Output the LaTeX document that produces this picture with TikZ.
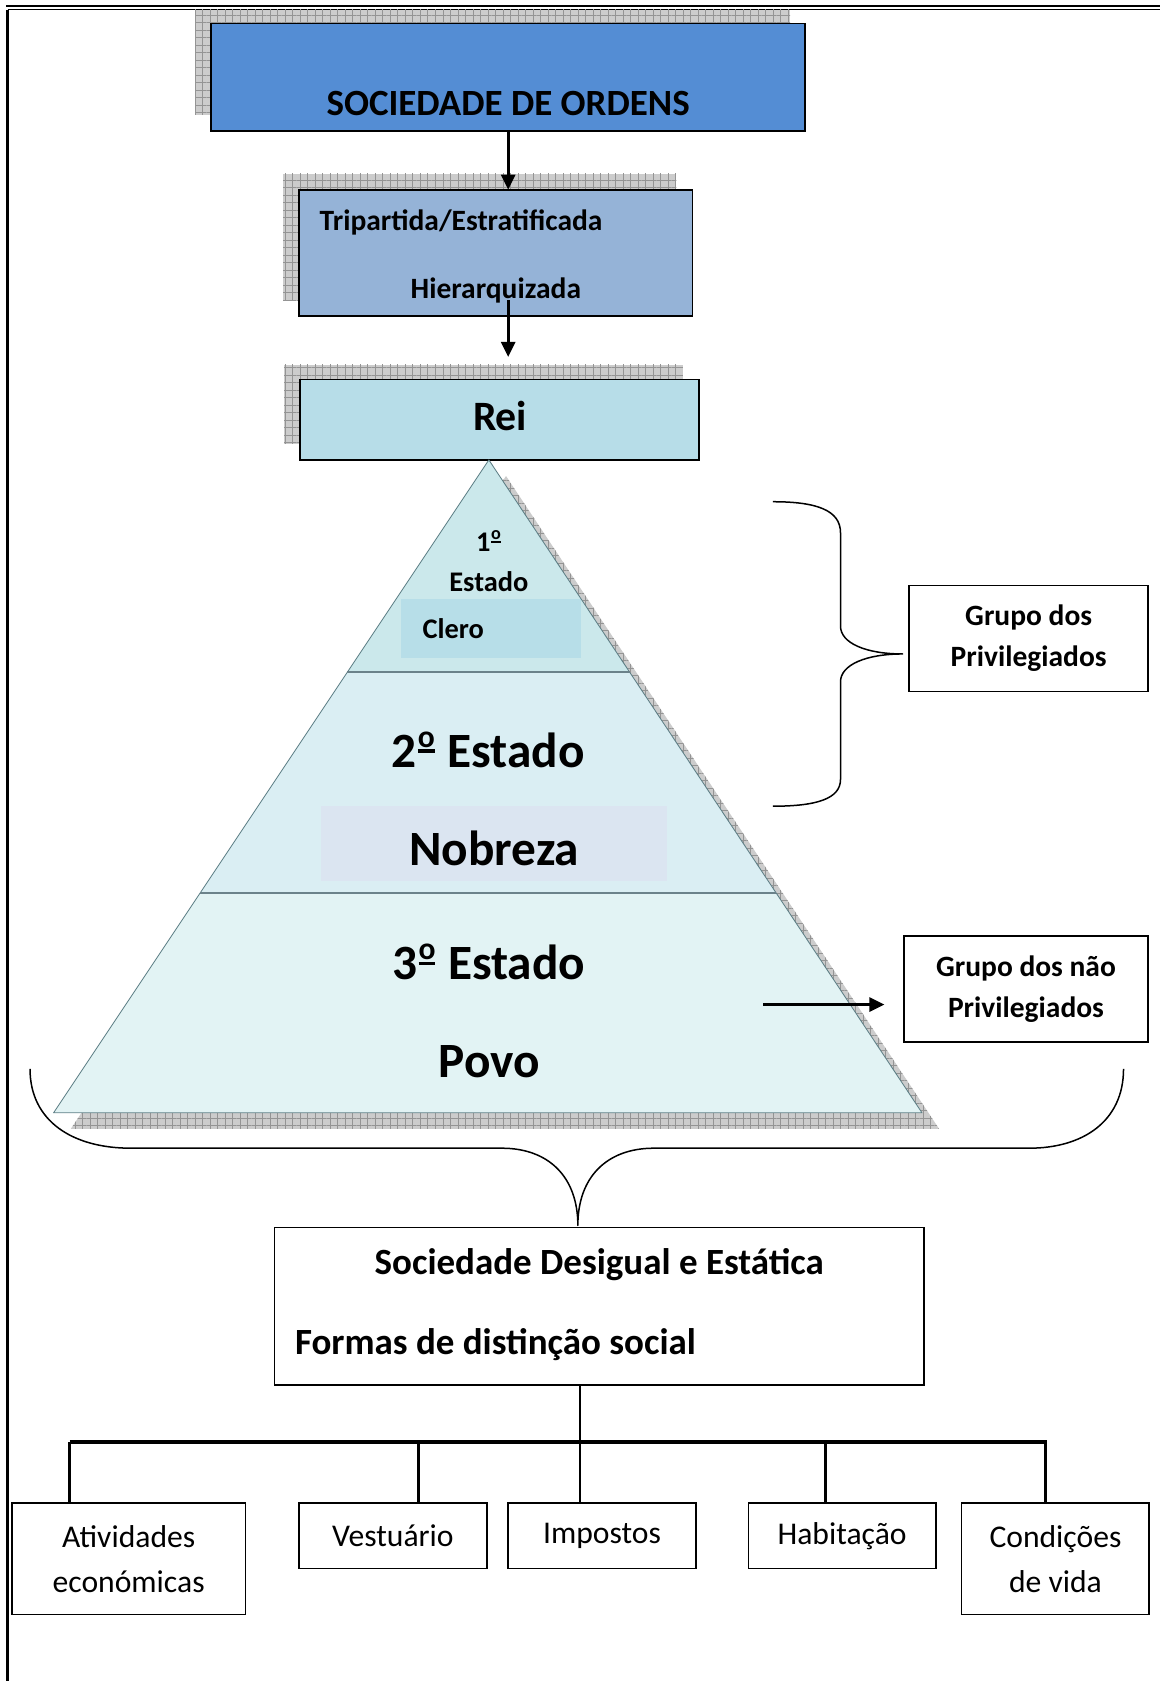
\documentclass[tikz,border=0pt]{standalone}
\usepackage{fontspec}
\setmainfont{Carlito}
\usetikzlibrary{arrows.meta,patterns.meta}
\definecolor{socblue}{HTML}{548DD4}
\definecolor{tripblue}{HTML}{95B3D7}
\definecolor{reiblue}{HTML}{B7DDE8}
\definecolor{pyrtop}{HTML}{CBE8EB}
\definecolor{pyrmid}{HTML}{DAEEF3}
\definecolor{pyrbot}{HTML}{E2F3F4}
\definecolor{clerobox}{HTML}{B7DEE8}
\definecolor{nobrbox}{HTML}{DBE5F1}
\definecolor{pyrline}{HTML}{5E7F86}
\definecolor{pyrdiv}{HTML}{6B828A}
\newcommand\szSoc{\fontsize{34.5}{40}\selectfont\bfseries}
\newcommand\szMid{\fontsize{27.5}{38}\selectfont\bfseries}
\newcommand\szRei{\fontsize{39}{44}\selectfont\bfseries}
\newcommand\szSml{\fontsize{26.5}{32}\selectfont\bfseries}
\newcommand\szBig{\fontsize{46}{52}\selectfont\bfseries}
\newcommand\szReg{\fontsize{29.5}{42}\selectfont}
\newcommand\ordm{\kern0.02em\raisebox{0.3em}{\vbox{\hbox{\scalebox{0.64}{o}}\kern0.04em\hrule height 0.07em}}\kern0.03em}
\tikzset{
  box/.style={draw=black, line width=1.5, inner sep=0, outer sep=0},
  shadowfill/.style={preaction={fill=black!20}, pattern={Hatch[distance=7pt,angle=0,line width=0.5pt]}, pattern color=black!42},
  arr/.style={line width=2.6, -{Triangle[width=13pt,length=14pt]}},
  txt/.style={inner sep=0, anchor=base},
  txtl/.style={inner sep=0, anchor=base west},
  brace/.style={line width=1.4, line join=round},
  tree/.style={line width=2.6},
}
\begin{document}
\begin{tikzpicture}[x=1pt,y=-1pt]
\useasboundingbox (0,0) rectangle (1082,1568);
% page frame
\draw[line width=1.9] (5.6,5.6) -- (1082,5.6);
\draw[line width=1.1] (7,9) -- (1082,9);
\draw[line width=3] (7.1,9) -- (7.1,1568);

% shadows
\fill[shadowfill] (182,9) rectangle (737,107);
\fill[shadowfill] (264,162) rectangle (631,280);
\fill[shadowfill] (265,340) rectangle (637,414);
\fill[shadowfill] (472,444) -- (66,1053) -- (876,1053) -- cycle;

% top boxes
\node[box, fill=socblue, minimum width=554, minimum height=100] (soc) at (474,72) {};
\node[txt] (soct) at (474,108) {\szSoc SOCIEDADE DE ORDENS};
\node[box, fill=tripblue, minimum width=367, minimum height=118] (trip) at (462.5,236) {};
\node[txtl] (tript1) at (298,215) {\szMid Tripartida/Estratificada};
\node[txt] (tript2) at (462.5,278) {\szMid Hierarquizada};
\node[box, fill=reiblue, minimum width=372, minimum height=75] (rei) at (466,391.5) {};
\node[txt] (reit) at (466.5,402) {\szRei Rei};

% arrows
\draw[arr] (soc.south) -- (soc.south |- trip.north);
\coordinate (h1) at (474,280);
\coordinate (h2) at (474,333);
\draw[arr] (h1) -- (h2);

% pyramid
\coordinate (apex) at (456,429);
\coordinate (bl) at (50,1038);
\coordinate (br) at (860,1038);
\coordinate (l1) at (324,627);
\coordinate (r1) at (587.3,627);
\coordinate (l2) at (186.7,833);
\coordinate (r2) at (724,833);
\fill[pyrtop] (apex) -- (l1) -- (r1) -- cycle;
\fill[pyrmid] (l1) -- (l2) -- (r2) -- (r1) -- cycle;
\fill[pyrbot] (l2) -- (bl) -- (br) -- (r2) -- cycle;
\fill[clerobox] (374,559) rectangle (542,614);
\fill[nobrbox] (299,752) rectangle (622,822);
\draw[pyrline, line width=0.8, line join=round] (apex) -- (bl) -- (br) -- cycle;
\draw[pyrdiv, line width=1.8] (l1) -- (r1);
\draw[pyrdiv, line width=1.8] (l2) -- (r2);

\node[txt] (e1a) at (456,514) {\szSml 1\ordm};
\node[txt] (e1b) at (456,552) {\szSml Estado};
\node[txtl] (e1c) at (394,596) {\szSml Clero};
\node[txt] (e2a) at (455.5,716) {\szBig 2\ordm{} Estado};
\node[txt] (e2b) at (461,807) {\szBig Nobreza};
\node[txt] (e3a) at (456,914) {\szBig 3\ordm{} Estado};
\node[txt] (e3b) at (456.5,1005) {\szBig Povo};

% group boxes
\node[box, minimum width=223, minimum height=99, align=center, font=\szMid] (priv) at (959.5,595.5) {Grupo dos\\Privilegiados};
\node[box, minimum width=228, minimum height=99, align=center, font=\szMid] (npriv) at (957,922.5) {Grupo dos não\\Privilegiados};

% right brace
\coordinate (rbtip) at (842,610);
\draw[brace] (721,468) .. controls (762,468) and (784,476) .. (784,497) -- (784,584)
  .. controls (784,600) and (808,610) .. (rbtip)
  .. controls (808,610) and (784,620) .. (784,636) -- (784,727)
  .. controls (784,745) and (762,752) .. (721,752);

% arrow to non privileged
\coordinate (na1) at (712,937);
\coordinate (na2) at (825,937);
\draw[arr] (na1) -- (na2);

% society box
\node[box, minimum width=606, minimum height=147] (desig) at (559,1218.5) {};
\node[txt] (desigt1) at (559,1189) {\szSoc Sociedade Desigual e Estática};
\node[txtl] (desigt2) at (275,1263) {\szSoc Formas de distinção social};

% big brace
\coordinate (bbtip) at (539,1143);
\draw[brace] (28,997) .. controls (28,1046) and (68,1071) .. (122,1071) -- (468,1071)
  .. controls (512,1071) and (539,1098) .. (bbtip)
  .. controls (539,1098) and (566,1071) .. (610,1071) -- (960,1071)
  .. controls (1010,1071) and (1048,1046) .. (1048,997);

% bottom boxes
\node[box, minimum width=218, minimum height=104, align=center, font=\szReg] (ativ) at (120,1454) {Atividades\\económicas};
\node[box, minimum width=175, minimum height=61, font=\szReg] (vest) at (366.5,1432.5) {Vestuário};
\node[box, minimum width=175, minimum height=61, font=\szReg] (impo) at (561.5,1432.5) {Impostos};
\node[box, minimum width=175, minimum height=61, font=\szReg] (habi) at (785.5,1432.5) {Habitação};
\node[box, minimum width=175, minimum height=104, align=center, font=\szReg] (cond) at (984.5,1454) {Condições\\de vida};

% tree
\coordinate (t0) at (541,1292);
\coordinate (b1) at (65,1345);
\coordinate (b2) at (390,1345);
\coordinate (b3) at (770,1345);
\coordinate (b4) at (975,1345);
\draw[line width=3.2] (b1) -- (976.5,1345);
\draw[tree] (t0) -- (t0 |- impo.north);
\draw[tree] (b1) -- (b1 |- ativ.north);
\draw[tree] (b2) -- (b2 |- vest.north);
\draw[tree] (b3) -- (b3 |- habi.north);
\draw[tree] (b4) -- (b4 |- cond.north);
\end{tikzpicture}
\end{document}
